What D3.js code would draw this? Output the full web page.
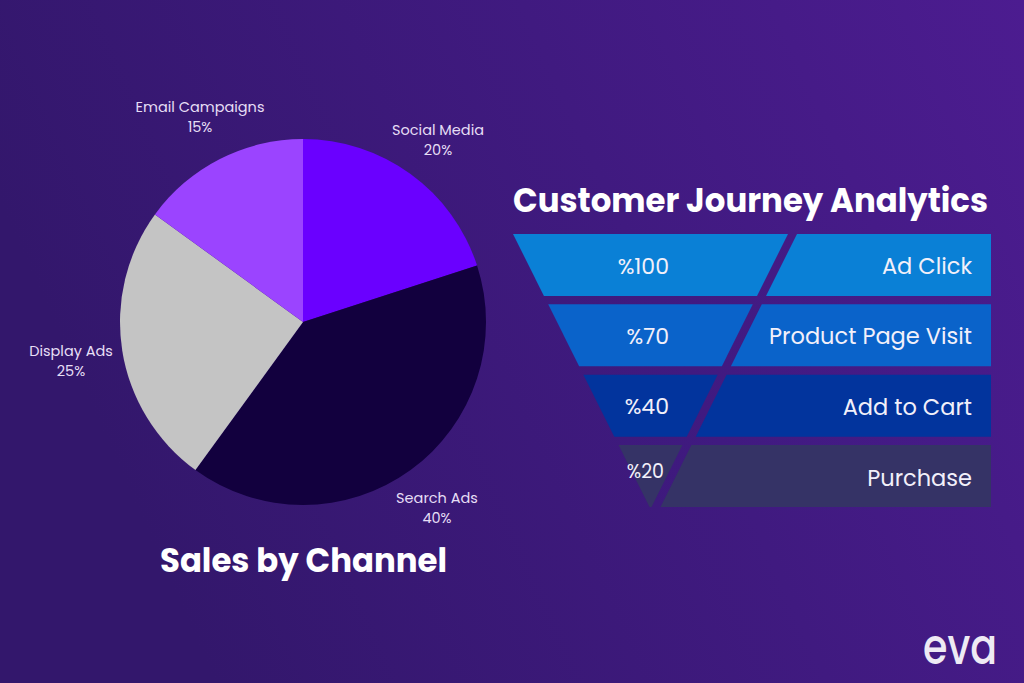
<!DOCTYPE html>
<html><head><meta charset="utf-8">
<script src="https://cdn.jsdelivr.net/npm/d3@7"></script>
<style>html,body{margin:0;padding:0;background:#3a1878;}svg{display:block;}</style>
</head><body>
<script>
// ---- data ----
const pieLabels = ["Social Media", "Search Ads", "Display Ads", "Email Campaigns"];
const pieValues = [20, 40, 25, 15];
const pieColors = ["#6a00ff", "#12003e", "#c4c4c4", "#9b44ff"];
const funnelStages = ["Ad Click", "Product Page Visit", "Add to Cart", "Purchase"];
const funnelValues = [100, 70, 40, 20];
const funnelColors = ["#0a80d6", "#0a63ca", "#02349d", "#353366"];

(function () {
const W = 1024, H = 683;
const FONT = "Poppins, Inter, 'Open Sans', sans-serif";
const svg = d3.select("body").append("svg").attr("width", W).attr("height", H);
const defs = svg.append("defs");
const bg = defs.append("linearGradient").attr("id", "bg").attr("x1", "0").attr("y1", "0.3").attr("x2", "1").attr("y2", "0");
bg.append("stop").attr("offset", "0").attr("stop-color", "#33176c");
bg.append("stop").attr("offset", "0.55").attr("stop-color", "#401a80");
bg.append("stop").attr("offset", "1").attr("stop-color", "#4c1c90");
svg.append("rect").attr("width", W).attr("height", H).attr("fill", "url(#bg)");

// ---- pie ----
const cx = 303, cy = 322, R = 183;
const pie = d3.pie().sort(null).value(d => d)(pieValues);
const arc = d3.arc().innerRadius(0).outerRadius(R);
const gp = svg.append("g").attr("transform", `translate(${cx},${cy})`);
gp.selectAll("path").data(pie).join("path")
  .attr("d", arc).attr("fill", (d, i) => pieColors[i]);

const labelPos = [[135, -187], [134, 181], [-232, 34], [-103, -210]];
pieLabels.forEach((lab, i) => {
  const t = gp.append("text").attr("x", labelPos[i][0]).attr("y", labelPos[i][1])
    .attr("text-anchor", "middle").attr("fill", "#e6def5")
    .attr("font-family", FONT).attr("font-size", 14.5);
  t.append("tspan").attr("x", labelPos[i][0]).text(lab);
  t.append("tspan").attr("x", labelPos[i][0]).attr("dy", 19.5).text(pieValues[i] + "%");
});

svg.append("text").attr("x", 160).attr("y", 572).attr("textLength", 287).attr("lengthAdjust", "spacingAndGlyphs")
  .attr("fill", "#ffffff").attr("font-family", FONT).attr("font-weight", 700).attr("font-size", 33)
  .text("Sales by Channel");

// ---- funnel ----
svg.append("text").attr("x", 513).attr("y", 212).attr("textLength", 475).attr("lengthAdjust", "spacingAndGlyphs")
  .attr("fill", "#ffffff").attr("font-family", FONT).attr("font-weight", 700).attr("font-size", 33)
  .text("Customer Journey Analytics");

const y = d3.scaleBand().domain(funnelStages).range([234, 507]).paddingInner(0.12).paddingOuter(0);
const yTop = 234, xL0 = 513, xR0 = 788, slope = 0.5, gapX = 9, xEnd = 991;
const xl = yy => xL0 + slope * (yy - yTop);
const xr = yy => Math.max(xl(yy), xR0 - slope * (yy - yTop));
const xs = yy => xR0 + gapX - slope * (yy - yTop);

const gf = svg.append("g");
funnelStages.forEach((s, i) => {
  const y0 = y(s), y1 = y(s) + y.bandwidth();
  const left = [[xl(y0), y0], [xr(y0), y0], [xr(y1), y1], [xl(y1), y1]];
  const right = [[xs(y0), y0], [xEnd, y0], [xEnd, y1], [xs(y1), y1]];
  gf.append("path").attr("d", d3.line()(left) + "Z").attr("fill", funnelColors[i]);
  gf.append("path").attr("d", d3.line()(right) + "Z").attr("fill", funnelColors[i]);
  const last = i === funnelStages.length - 1;
  gf.append("text").attr("x", last ? 664 : 669).attr("y", last ? y0 + 26 : y0 + y.bandwidth() / 2 + 1)
    .attr("dy", "0.35em").attr("text-anchor", "end").attr("fill", "#f2f0fa")
    .attr("font-family", FONT).attr("font-size", last ? 19 : 22)
    .text("%" + funnelValues[i]);
  gf.append("text").attr("x", 972).attr("y", y0 + y.bandwidth() / 2 + (last ? 2 : 1))
    .attr("dy", "0.35em").attr("text-anchor", "end").attr("fill", "#f2f0fa")
    .attr("font-family", FONT).attr("font-size", 22.5)
    .text(s);
});

// ---- logo ----
svg.append("text").attr("x", 960).attr("y", 664).attr("text-anchor", "middle")
  .attr("fill", "#eeeaf4").attr("font-family", FONT).attr("font-weight", 500).attr("font-size", 50)
  .attr("textLength", 74).attr("lengthAdjust", "spacingAndGlyphs")
  .text("eva");
})();
</script>
</body></html>
